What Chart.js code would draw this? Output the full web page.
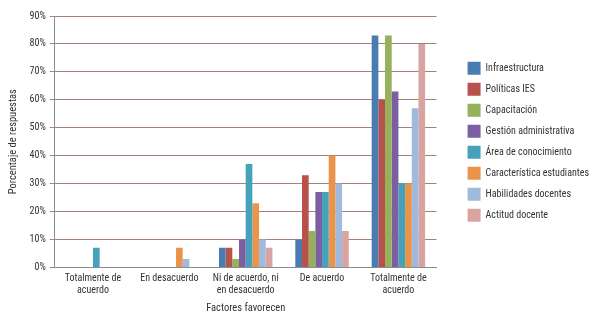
<!DOCTYPE html>
<html>
<head>
<meta charset="utf-8">
<script src="https://cdn.jsdelivr.net/npm/chart.js@4.4.1/dist/chart.umd.min.js"></script>
<style>
  html, body { margin: 0; padding: 0; background: #fff; }
  #wrap { width: 589px; height: 321px; }
</style>
</head>
<body>
<div id="wrap"><canvas id="factoresChart"></canvas></div>
<script>
  const categories = [
    ["Totalmente de", "acuerdo"],
    "En desacuerdo",
    ["Ni de acuerdo, ni", "en desacuerdo"],
    "De acuerdo",
    ["Totalmente de", "acuerdo"],
  ];

  const seriesNames = [
    "Infraestructura",
    "Políticas IES",
    "Capacitación",
    "Gestión administrativa",
    "Área de conocimiento",
    "Característica estudiantes",
    "Habilidades docentes",
    "Actitud docente",
  ];

  const infraestructura = [0, 0, 7, 10, 83];
  const politicas = [0, 0, 7, 33, 60];
  const capacitacion = [0, 0, 3, 13, 83];
  const gestion = [0, 0, 10, 27, 63];
  const area = [7, 0, 37, 27, 30];
  const caracteristica = [0, 7, 23, 40, 30];
  const habilidades = [0, 3, 10, 30, 57];
  const actitud = [0, 0, 7, 13, 80];

  const yTicks = [0, 10, 20, 30, 40, 50, 60, 70, 80, 90];

  const colors = [
    "#4a7cb2",
    "#b8504c",
    "#96b15c",
    "#7c5fa0",
    "#46a2ba",
    "#ea944b",
    "#9fbadd",
    "#d9a3a2",
  ];

  const seriesValues = [
    infraestructura, politicas, capacitacion, gestion,
    area, caracteristica, habilidades, actitud,
  ];

  const fontFamily = "'Liberation Sans Narrow', 'Roboto Condensed', Lato, sans-serif";
  const legendShift = 23;

  // push the legend right (gap after the plot) and center it on the plot area
  const legendGap = {
    id: "legendGap",
    afterLayout(chart) {
      const lg = chart.legend;
      const area = chart.chartArea;
      const dy = (area.top + area.bottom) / 2 - (lg.top + lg.bottom) / 2;
      lg.left += legendShift;
      lg.right += legendShift;
      lg.top += dy;
      lg.bottom += dy;
    },
  };

  const canvas = document.getElementById("factoresChart");
  new Chart(canvas.getContext("2d"), {
    type: "bar",
    data: {
      labels: categories,
      datasets: seriesValues.map((vals, i) => ({
        label: seriesNames[i],
        data: vals,
        backgroundColor: colors[i],
        borderWidth: 0,
        categoryPercentage: 0.7,
        barPercentage: 1,
      })),
    },
    options: {
      responsive: true,
      maintainAspectRatio: false,
      animation: false,
      layout: { padding: { top: 16, right: 13, left: 7, bottom: 6 } },
      plugins: {
        legend: {
          position: "right",
          labels: {
            boxWidth: 13,
            boxHeight: 13,
            padding: 8,
            color: "#333",
            font: { family: fontFamily, size: 10 },
          },
        },
        tooltip: { enabled: false },
      },
      scales: {
        x: {
          grid: { display: false, drawTicks: false },
          border: { display: true, color: "#8c8c8c", width: 1 },
          ticks: {
            color: "#333",
            padding: 5,
            maxRotation: 0,
            autoSkip: false,
            font: { family: fontFamily, size: 10 },
          },
          title: {
            display: true,
            text: "Factores favorecen",
            color: "#333",
            font: { family: fontFamily, size: 10.5 },
            padding: { top: 1, bottom: 0 },
          },
        },
        y: {
          min: 0,
          max: 90,
          afterBuildTicks(scale) {
            scale.ticks = yTicks.map((v) => ({ value: v }));
          },
          grid: {
            color: "#a68178",
            lineWidth: 1,
            tickLength: 5,
            tickColor: "#8c8c8c",
          },
          border: { display: true, color: "#8c8c8c", width: 1 },
          ticks: {
            color: "#333",
            padding: 4,
            font: { family: fontFamily, size: 10 },
            callback: (v) => v + "%",
          },
          title: {
            display: true,
            text: "Porcentaje de respuestas",
            color: "#333",
            font: { family: fontFamily, size: 10.5 },
            padding: { top: 0, bottom: 6 },
          },
        },
      },
    },
    plugins: [legendGap],
  });
</script>
</body>
</html>
